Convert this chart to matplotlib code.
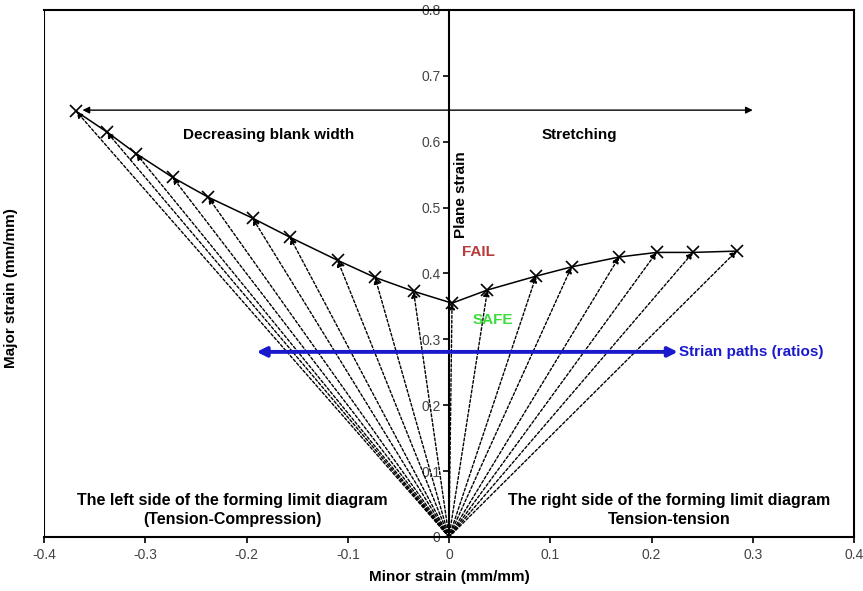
import numpy as np
import matplotlib
matplotlib.use('Agg')
import matplotlib.pyplot as plt

# forming limit curve points (minor strain, major strain)
left_minor = [-0.368, -0.338, -0.309, -0.273, -0.238, -0.194, -0.157, -0.110, -0.073, -0.035, 0.003]
left_major = [0.646, 0.615, 0.582, 0.546, 0.516, 0.484, 0.455, 0.420, 0.394, 0.373, 0.355]
right_minor = [0.038, 0.086, 0.121, 0.168, 0.205, 0.241, 0.284]
right_major = [0.375, 0.396, 0.410, 0.425, 0.432, 0.432, 0.434]

x_ticks = [-0.4, -0.3, -0.2, -0.1, 0, 0.1, 0.2, 0.3, 0.4]
y_ticks = [0, 0.1, 0.2, 0.3, 0.4, 0.5, 0.6, 0.7, 0.8]

plt.rcParams['font.family'] = ['Liberation Sans', 'DejaVu Sans']

fig = plt.figure(figsize=(8.63, 5.91), dpi=100)
ax = fig.add_axes([44/863, 1-537/591, 810/863, 527/591])

ax.set_xlim(-0.4, 0.4)
ax.set_ylim(0, 0.8)

minor = left_minor + right_minor
major = left_major + right_major

# strain paths from origin
for mx, my in zip(minor, major):
    ax.annotate('', xy=(mx, my), xytext=(0, 0),
                arrowprops=dict(arrowstyle='-|>', color='k', lw=1.0, ls=(0, (2, 1.5)),
                                mutation_scale=9, shrinkA=0, shrinkB=0))

# forming limit curve
ax.plot(minor, major, color='k', lw=1.1, zorder=4)
ax.plot(minor, major, 'x', color='k', ms=8, mew=1.2, zorder=5)

# spines: y axis through x = 0, box around the rest
ax.spines['left'].set_position(('data', 0))
ax.axvline(-0.4, color='k', lw=1.5)
for s in ['left', 'right', 'top', 'bottom']:
    ax.spines[s].set_linewidth(1.5)

ax.set_xticks(x_ticks)
ax.set_xticklabels(['-0.4', '-0.3', '-0.2', '-0.1', '0', '0.1', '0.2', '0.3', '0.4'])
ax.set_yticks(y_ticks)
ax.set_yticklabels(['0', '0.1', '0.2', '0.3', '0.4', '0.5', '0.6', '0.7', '0.8'])
ax.tick_params(axis='both', direction='out', length=4, width=1.2, labelsize=10, labelcolor='#444444')
ax.tick_params(axis='y', pad=2)
ax.tick_params(axis='x', pad=4)

ax.set_xlabel('Minor strain (mm/mm)', fontsize=11, fontweight='bold')
ax.xaxis.set_label_coords(0.5, -0.062)
ax.set_ylabel('Major strain (mm/mm)', fontsize=11, fontweight='bold')
ax.yaxis.set_label_coords(-0.032, 0.473)

# black double arrow
ax.annotate('', xy=(-0.362, 0.648), xytext=(0.300, 0.648),
            arrowprops=dict(arrowstyle='<|-|>', color='k', lw=1.0, mutation_scale=10,
                            shrinkA=0, shrinkB=0))
ax.text(-0.178, 0.610, 'Decreasing blank width', fontsize=11, fontweight='bold',
        ha='center', va='center')
ax.text(0.129, 0.610, 'Stretching', fontsize=11, fontweight='bold', ha='center', va='center')
ax.text(0.012, 0.520, 'Plane strain', fontsize=11, fontweight='bold', rotation=90,
        ha='center', va='center')
ax.text(0.029, 0.432, 'FAIL', fontsize=11, fontweight='bold', color='#b83a3a',
        ha='center', va='center')
ax.text(0.043, 0.330, 'SAFE', fontsize=11, fontweight='bold', color='#3ddc3d',
        ha='center', va='center')

# blue double arrow
ax.annotate('', xy=(-0.190, 0.281), xytext=(0.226, 0.281),
            arrowprops=dict(arrowstyle='<|-|>', color='#1a1acc', lw=2.8, mutation_scale=14,
                            shrinkA=0, shrinkB=0))
ax.text(0.227, 0.281, 'Strian paths (ratios)', fontsize=11, fontweight='bold',
        color='#1a1acc', ha='left', va='center')

ax.text(0.233, 0.051, 'The left side of the forming limit diagram\n(Tension-Compression)',
        transform=ax.transAxes, fontsize=11.5, fontweight='bold',
        ha='center', va='center', linespacing=1.3)
ax.text(0.772, 0.051, 'The right side of the forming limit diagram\nTension-tension',
        transform=ax.transAxes, fontsize=11.5, fontweight='bold',
        ha='center', va='center', linespacing=1.3)

fig.savefig('out.png', dpi=100)
